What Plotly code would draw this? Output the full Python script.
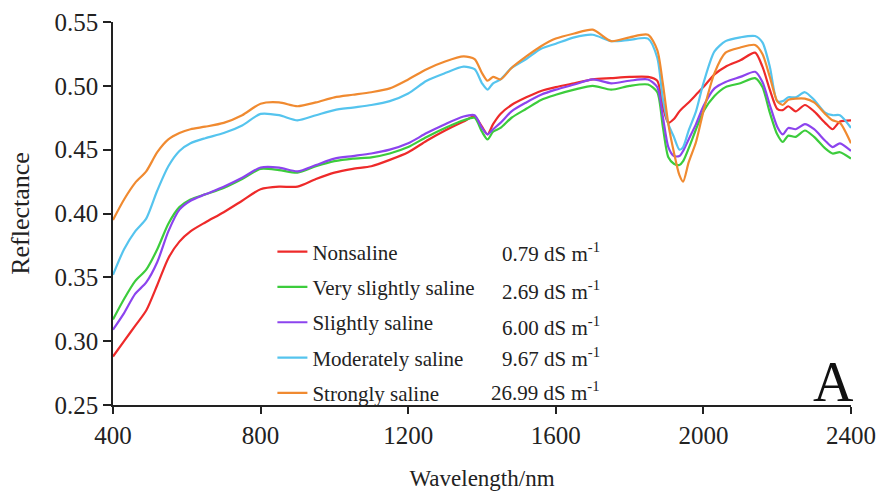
import plotly.graph_objects as go

wavelength = [400, 430, 460, 490, 520, 550, 580, 610, 650, 700, 750, 800, 850, 900, 950,
              1000, 1050, 1100, 1150, 1200, 1250, 1300, 1350, 1380, 1400, 1415, 1430, 1450,
              1480, 1520, 1560, 1600, 1650, 1700, 1750, 1800, 1850, 1875, 1890, 1905, 1920,
              1935, 1945, 1960, 1980, 2000, 2030, 2060, 2100, 2140, 2160, 2180, 2200, 2215,
              2230, 2250, 2275, 2300, 2330, 2350, 2370, 2400]

nonsaline = [0.288, 0.300, 0.312, 0.324, 0.344, 0.365, 0.378, 0.386, 0.393, 0.401, 0.410, 0.419,
             0.421, 0.421, 0.427, 0.432, 0.435, 0.437, 0.442, 0.448, 0.457, 0.465, 0.472, 0.476,
             0.468, 0.462, 0.470, 0.478, 0.485, 0.491, 0.496, 0.499, 0.502, 0.505, 0.506, 0.507,
             0.507, 0.504, 0.484, 0.471, 0.474, 0.480, 0.483, 0.487, 0.493, 0.499, 0.509, 0.515,
             0.520, 0.526, 0.515, 0.497, 0.482, 0.481, 0.484, 0.480, 0.485, 0.480, 0.471, 0.466,
             0.472, 0.473]

very_slightly = [0.317, 0.333, 0.347, 0.356, 0.372, 0.392, 0.405, 0.411, 0.415, 0.420, 0.427, 0.435,
                 0.434, 0.432, 0.437, 0.441, 0.443, 0.444, 0.447, 0.452, 0.460, 0.467, 0.473, 0.475,
                 0.464, 0.458, 0.464, 0.467, 0.475, 0.482, 0.489, 0.493, 0.497, 0.500, 0.497, 0.500,
                 0.501, 0.495, 0.468, 0.444, 0.439, 0.438, 0.441, 0.451, 0.466, 0.480, 0.492, 0.499,
                 0.502, 0.506, 0.499, 0.479, 0.462, 0.456, 0.461, 0.460, 0.465, 0.460, 0.451, 0.447,
                 0.448, 0.443]

slightly = [0.309, 0.322, 0.337, 0.346, 0.362, 0.386, 0.403, 0.410, 0.415, 0.421, 0.428, 0.436,
            0.436, 0.433, 0.438, 0.443, 0.445, 0.447, 0.450, 0.455, 0.463, 0.470, 0.476, 0.477,
            0.467, 0.462, 0.466, 0.471, 0.480, 0.487, 0.493, 0.497, 0.501, 0.505, 0.502, 0.504,
            0.505, 0.499, 0.476, 0.452, 0.445, 0.445, 0.449, 0.458, 0.470, 0.484, 0.498, 0.503,
            0.507, 0.511, 0.503, 0.485, 0.468, 0.462, 0.467, 0.466, 0.470, 0.466, 0.457, 0.452,
            0.455, 0.449]

moderately = [0.352, 0.372, 0.386, 0.396, 0.418, 0.437, 0.449, 0.455, 0.459, 0.463, 0.469, 0.478,
              0.477, 0.473, 0.477, 0.481, 0.483, 0.485, 0.488, 0.494, 0.504, 0.510, 0.515, 0.513,
              0.502, 0.497, 0.502, 0.505, 0.514, 0.521, 0.529, 0.533, 0.538, 0.540, 0.535, 0.536,
              0.537, 0.522, 0.490, 0.470, 0.460, 0.450, 0.452, 0.465, 0.480, 0.502, 0.527, 0.535,
              0.538, 0.539, 0.534, 0.515, 0.488, 0.488, 0.491, 0.491, 0.495, 0.489, 0.479, 0.477,
              0.477, 0.467]

strongly = [0.395, 0.411, 0.424, 0.433, 0.448, 0.458, 0.463, 0.466, 0.468, 0.471, 0.477, 0.486,
            0.487, 0.484, 0.487, 0.491, 0.493, 0.495, 0.498, 0.505, 0.513, 0.519, 0.523, 0.521,
            0.510, 0.504, 0.507, 0.505, 0.514, 0.523, 0.531, 0.537, 0.541, 0.544, 0.535, 0.538,
            0.540, 0.528, 0.502, 0.470, 0.448, 0.430, 0.425, 0.440, 0.456, 0.480, 0.510, 0.526,
            0.530, 0.532, 0.525, 0.507, 0.488, 0.485, 0.489, 0.490, 0.490, 0.487, 0.478, 0.473,
            0.471, 0.455]

series_names = ["Nonsaline", "Very slightly saline", "Slightly saline",
                "Moderately saline", "Strongly saline"]
series_ec = ["0.79", "2.69", "6.00", "9.67", "26.99"]
series_values = [nonsaline, very_slightly, slightly, moderately, strongly]
series_colors = ["#ee2a2a", "#3ccc3c", "#8c44ee", "#55c4ee", "#f08a30"]

x_ticks = [400, 800, 1200, 1600, 2000, 2400]
y_ticks = [0.25, 0.30, 0.35, 0.40, 0.45, 0.50, 0.55]

FONT = "Liberation Serif, Times New Roman, serif"

fig = go.Figure()
for name, vals, col in zip(series_names, series_values, series_colors):
    fig.add_trace(go.Scatter(
        x=wavelength, y=vals, mode="lines", name=name, legendgroup=name,
        line=dict(color=col, width=2.2, shape="spline", smoothing=0.7),
    ))

# EC value column next to legend entries
row_y = [0.397, 0.300, 0.206, 0.125, 0.034]
for ec, yy in zip(series_ec, row_y):
    fig.add_annotation(
        x=0.662, y=yy, xref="paper", yref="paper", xanchor="right", yanchor="middle",
        text=f"{ec} dS m<sup>-1</sup>", showarrow=False,
        font=dict(family=FONT, size=21, color="#222222"),
    )

fig.add_annotation(
    x=0.976, y=0.06, xref="paper", yref="paper", xanchor="center", yanchor="middle",
    text="A", showarrow=False, font=dict(family=FONT, size=56, color="#111111"),
)

fig.update_layout(
    width=878, height=494,
    margin=dict(l=113, r=27, t=22, b=89),
    paper_bgcolor="white", plot_bgcolor="white",
    font=dict(family=FONT, color="#222222"),
    showlegend=True,
    legend=dict(
        x=0.216, y=0.453, xanchor="left", yanchor="top",
        bgcolor="rgba(0,0,0,0)", borderwidth=0,
        font=dict(family=FONT, size=21, color="#222222"),
        tracegroupgap=5,
    ),
    xaxis=dict(
        range=[400, 2400], tickvals=x_ticks, ticktext=[str(v) for v in x_ticks],
        automargin=False,
        showgrid=False, zeroline=False, showline=True, linecolor="#222222", linewidth=1.5,
        ticks="outside", ticklen=7, tickwidth=1.5, tickcolor="#222222",
        tickfont=dict(family=FONT, size=25, color="#222222"),
        title=dict(text="Wavelength/nm", font=dict(family=FONT, size=23, color="#222222"),
                   standoff=22),
    ),
    yaxis=dict(
        range=[0.25, 0.55], tickvals=y_ticks, ticktext=[f"{v:.2f}" for v in y_ticks],
        automargin=False,
        showgrid=False, zeroline=False, showline=True, linecolor="#222222", linewidth=1.5,
        ticks="outside", ticklen=8, tickwidth=1.5, tickcolor="#222222",
        tickfont=dict(family=FONT, size=25, color="#222222"),
        title=dict(text="Reflectance", font=dict(family=FONT, size=26, color="#222222"),
                   standoff=17),
    ),
)

fig.write_html("out.html",
               config={"displayModeBar": False},
               post_script="document.body.style.margin='0';document.body.style.overflow='hidden';")
